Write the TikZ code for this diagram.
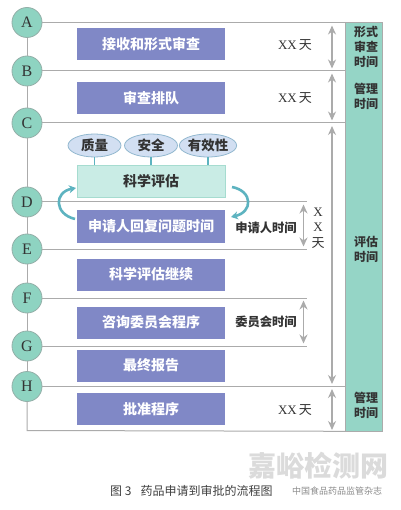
\documentclass[tikz,border=0pt]{standalone}
\usepackage{fontspec}
\setmainfont{Liberation Serif}
\newfontfamily\cjk{Noto Sans CJK SC}
\usetikzlibrary{arrows.meta,shapes.geometric}
\definecolor{circfill}{HTML}{8ED3C1}
\definecolor{circline}{HTML}{93AFA8}
\definecolor{linegray}{HTML}{ABABAB}
\definecolor{boxpurple}{HTML}{8088C6}
\definecolor{evalfill}{HTML}{C9ECE5}
\definecolor{evalline}{HTML}{A6DCD0}
\definecolor{ellfill}{HTML}{D2DFF2}
\definecolor{ellline}{HTML}{92B8CF}
\definecolor{tealc}{HTML}{5DB3C0}
\definecolor{barfill}{HTML}{95D5C6}
\definecolor{arrgray}{HTML}{ABABAB}
\definecolor{txtdark}{HTML}{333333}
\tikzset{
  stage/.style={circle, draw=circline, line width=0.8pt, fill=circfill, minimum size=30pt, inner sep=0pt, font=\fontsize{16}{16}\selectfont, text=txtdark},
  pbox/.style={rectangle, fill=boxpurple, minimum width=148pt, minimum height=32pt, inner sep=0pt, text=white, font=\cjk\bfseries\fontsize{14}{14}\selectfont},
  evalbox/.style={rectangle, draw=evalline, line width=0.8pt, fill=evalfill, minimum width=148pt, minimum height=31.5pt, inner sep=0pt, text=txtdark, font=\cjk\bfseries\fontsize{14}{14}\selectfont},
  ell/.style={ellipse, draw=ellline, line width=0.8pt, fill=ellfill, minimum width=53pt, minimum height=23pt, inner sep=0pt, text=txtdark, font=\cjk\bfseries\fontsize{13.5}{14}\selectfont},
  gline/.style={draw=linegray, line width=1pt},
  dimarrow/.style={draw=arrgray, line width=1.3pt, {Stealth[length=9pt,width=8pt]}-{Stealth[length=9pt,width=8pt]}},
  curvarrow/.style={draw=tealc, line width=2.6pt, -{Stealth[length=7pt,width=8pt]}},
  bartext/.style={align=center, text=txtdark, font=\cjk\bfseries\fontsize{12}{15}\selectfont},
  sidelabel/.style={text=txtdark, font=\cjk\bfseries\fontsize{12.3}{14}\selectfont},
  daylabel/.style={text=txtdark, font=\fontsize{13}{15.5}\selectfont, inner sep=0pt, align=center},
}
\begin{document}
\begin{tikzpicture}[x=1pt,y=-1pt]
\useasboundingbox[fill=white] (0,0) rectangle (400,510);

% green bar
\node[draw=linegray, line width=0.8pt, fill=barfill, minimum width=36.5pt, minimum height=408.5pt, inner sep=0pt, anchor=north west] (bar) at (345,22) {};

% stage circles
\node[stage] (A) at (27,22.5) {A};
\node[stage] (B) at (27,71) {B};
\node[stage] (C) at (27,123) {C};
\node[stage] (D) at (27,202) {D};
\node[stage] (E) at (27,249) {E};
\node[stage] (F) at (27,298) {F};
\node[stage] (G) at (27,346) {G};
\node[stage] (H) at (27,386.5) {H};
\coordinate (bl) at (27,430.5);

% vertical spine
\draw[gline] (A) -- (B);
\draw[gline] (B) -- (C);
\draw[gline] (C) -- (D);
\draw[gline] (D) -- (E);
\draw[gline] (E) -- (F);
\draw[gline] (F) -- (G);
\draw[gline] (G) -- (H);
\draw[gline] (H) -- (bl) -- (bar.south west);

% horizontal lines
\coordinate (Dr) at (307,202);
\coordinate (Er) at (307,249);
\coordinate (Fr) at (307,298);
\coordinate (Gr) at (307,346);
\draw[gline] (A) -- (A -| bar.west);
\draw[gline] (B) -- (B -| bar.west);
\draw[gline] (C) -- (C -| bar.west);
\draw[gline] (D) -- (Dr);
\draw[gline] (E) -- (Er);
\draw[gline] (F) -- (Fr);
\draw[gline] (G) -- (Gr);
\draw[gline] (H) -- (H -| bar.west);

% purple boxes
\node[pbox] (b1) at (151,44.5) {接收和形式审查};
\node[pbox] (b2) at (151,98) {审查排队};
\node[pbox] (b3) at (151,226.5) {申请人回复问题时间};
\node[pbox] (b4) at (151,274.5) {科学评估继续};
\node[pbox] (b5) at (151,322.5) {咨询委员会程序};
\node[pbox] (b6) at (151,365.5) {最终报告};
\node[pbox] (b7) at (151,409) {批准程序};

% scientific evaluation
\node[evalbox] (sci) at (151,181.5) {科学评估};
\node[ell] (q) at (94.5,145.5) {质量};
\node[ell] (s) at (151,145.5) {安全};
\node[ell] (v) at (208,145.5) {有效性};
\draw[tealc, line width=1.5pt] (q.south) -- (q.south |- sci.north);
\draw[tealc, line width=1.5pt] (s.south) -- (s.south |- sci.north);
\draw[tealc, line width=1.5pt] (v.south) -- (v.south |- sci.north);

% curved arrows
\coordinate (l1) at (75,219);
\coordinate (l2) at (76,188);
\coordinate (r1) at (232,187);
\coordinate (r2) at (231,217);
\draw[curvarrow] (l1) .. controls (54,214) and (54,192) .. (l2);
\draw[curvarrow] (r1) .. controls (253,191) and (253,212) .. (r2);

% dimension arrows
\coordinate (a1) at (332,25.5);
\coordinate (a2) at (332,68.5);
\coordinate (a3) at (332,73.5);
\coordinate (a4) at (332,120.5);
\coordinate (a5) at (332,126);
\coordinate (a6) at (332,384);
\coordinate (a7) at (332,389);
\coordinate (a8) at (332,430);
\coordinate (d1) at (303.5,204.5);
\coordinate (d2) at (303.5,246.5);
\coordinate (f1) at (303.5,300.5);
\coordinate (f2) at (303.5,343.5);
\draw[dimarrow] (a1) -- (a2);
\draw[dimarrow] (a3) -- (a4);
\draw[dimarrow] (a5) -- (a6);
\draw[dimarrow] (a7) -- (a8);
\draw[dimarrow] (d1) -- (d2);
\draw[dimarrow] (f1) -- (f2);

% labels
\node[daylabel] (t1) at (295,45) {XX\,{\cjk 天}};
\node[daylabel] (t2) at (295,98) {XX\,{\cjk 天}};
\node[daylabel] (t3) at (295,410) {XX\,{\cjk 天}};
\node[daylabel] (t4) at (318,228) {X\\X\\{\cjk 天}};
\node[sidelabel] (s1) at (266,228) {申请人时间};
\node[sidelabel] (s2) at (266,322) {委员会时间};

% bar texts
\node[bartext] (g1) at (366,46.5) {形式\\审查\\时间};
\node[bartext] (g2) at (366,96) {管理\\时间};
\node[bartext] (g3) at (366,249.5) {评估\\时间};
\node[bartext] (g4) at (366,405.5) {管理\\时间};

% watermark
\node[text=black!14, font=\cjk\bfseries\fontsize{28}{28}\selectfont, inner sep=0pt] (wm) at (318,466) {嘉峪检测网};
% caption
\node[anchor=west, text=black!75, font=\cjk\fontsize{12}{12}\selectfont, inner sep=0pt] (cap) at (110,491) {图 3\hspace{9pt}药品申请到审批的流程图};
\node[anchor=west, text=black!45, font=\cjk\fontsize{9}{9}\selectfont, inner sep=0pt] (wm2) at (292,491) {中国食品药品监管杂志};
\end{tikzpicture}
\end{document}
